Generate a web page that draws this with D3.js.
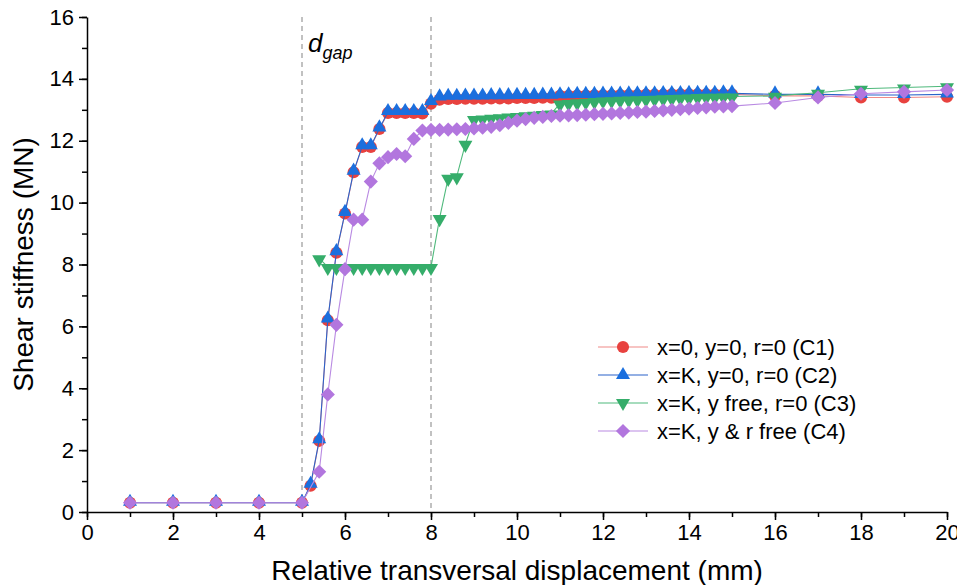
<!DOCTYPE html>
<html>
<head>
<meta charset="utf-8">
<script src="https://cdn.jsdelivr.net/npm/d3@7"></script>
<style>
  body { margin: 0; background: #fff; }
  svg { font-family: Arial, "Liberation Sans", sans-serif; }
</style>
</head>
<body>
<div id="chart-area"></div>
<script>
// x positions (mm)
const xC1 = [1,2,3,4,5,5.2,5.4,5.6,5.8,6,6.2,6.4,6.6,6.8,7,7.2,7.4,7.6,7.8,8,8.2,8.4,8.6,8.8,9,9.2,9.4,9.6,9.8,10,10.2,10.4,10.6,10.8,11,11.2,11.4,11.6,11.8,12,12.2,12.4,12.6,12.8,13,13.2,13.4,13.6,13.8,14,14.2,14.4,14.6,14.8,15,16,17,18,19,20];
const xC2 = xC1;
const xC3 = [5.4,5.6,5.8,6,6.2,6.4,6.6,6.8,7,7.2,7.4,7.6,7.8,8,8.2,8.4,8.6,8.8,9,9.2,9.4,9.6,9.8,10,10.2,10.4,10.6,10.8,11,11.2,11.4,11.6,11.8,12,12.2,12.4,12.6,12.8,13,13.2,13.4,13.6,13.8,14,14.2,14.4,14.6,14.8,15,16,17,18,19,20];
const xC4 = [1,2,3,4,5,5.4,5.6,5.8,6,6.2,6.4,6.6,6.8,7,7.2,7.4,7.6,7.8,8,8.2,8.4,8.6,8.8,9,9.2,9.4,9.6,9.8,10,10.2,10.4,10.6,10.8,11,11.2,11.4,11.6,11.8,12,12.2,12.4,12.6,12.8,13,13.2,13.4,13.6,13.8,14,14.2,14.4,14.6,14.8,15,16,17,18,19,20];

// shear stiffness (MN)
const yC1 = [0.3,0.3,0.3,0.3,0.3,
  0.85,2.3,6.2,8.38,9.65,10.98,11.8,11.8,12.38,12.9,12.9,12.9,12.9,12.88,
  13.2,13.33,
  13.35,13.35,13.36,13.36,13.36,13.37,13.37,13.37,13.38,13.38,13.38,13.39,13.39,
  13.45,13.45,13.46,13.46,13.47,13.47,13.47,13.48,13.48,13.48,13.49,13.49,13.49,13.5,13.5,13.5,13.5,13.5,13.5,13.5,13.5,
  13.45,13.45,13.4,13.4,13.42];
const yC2 = [0.3,0.3,0.3,0.3,0.3,
  0.88,2.32,6.22,8.4,9.67,11.0,11.82,11.82,12.4,12.93,12.93,12.93,12.93,12.93,
  13.25,13.4,
  13.42,13.42,13.43,13.43,13.43,13.44,13.44,13.44,13.45,13.45,13.45,13.46,13.46,
  13.47,13.47,13.48,13.48,13.48,13.49,13.49,13.49,13.5,13.5,13.5,13.5,13.51,13.51,13.51,13.52,13.52,13.52,13.52,13.53,13.53,
  13.5,13.5,13.48,13.48,13.5];
const yC3 = [8.2,
  7.92,7.92,7.92,7.92,7.92,7.92,7.92,7.92,7.92,7.92,7.92,7.92,7.92,
  9.5,10.8,10.85,11.9,12.7,
  12.72,12.74,12.76,12.78,12.8,12.82,12.84,12.86,12.88,
  13.2,13.22,13.24,13.26,13.28,13.3,13.31,13.32,13.33,13.34,13.35,13.36,13.37,13.38,13.39,13.4,13.41,13.42,13.42,13.43,13.43,
  13.45,13.55,13.68,13.72,13.76];
const yC4 = [0.3,0.3,0.3,0.3,0.3,
  1.3,3.8,6.05,7.85,9.45,9.45,10.68,11.27,11.47,11.57,11.5,12.06,12.33,
  12.35,12.35,12.36,12.37,12.38,12.4,12.42,12.45,12.5,12.58,12.65,12.7,12.74,12.77,12.8,
  12.81,12.82,12.83,12.84,12.86,12.87,12.88,12.9,12.91,12.93,12.94,12.96,12.98,13.0,13.02,13.04,13.06,13.08,13.1,13.11,13.12,
  13.22,13.4,13.52,13.58,13.64];

const seriesNames = ["x=0, y=0, r=0 (C1)", "x=K, y=0, r=0 (C2)", "x=K, y free, r=0 (C3)", "x=K, y & r free (C4)"];
const xTicks = [0,2,4,6,8,10,12,14,16,18,20];
const yTicks = [0,2,4,6,8,10,12,14,16];
const gapLines = [5, 8];

const MARGINS = { top: 17, right: 10, left: 87, bottom: 73 };
const WIDTH = 957, HEIGHT = 585;
const CHART_WIDTH = WIDTH - MARGINS.left - MARGINS.right;
const CHART_HEIGHT = HEIGHT - MARGINS.top - MARGINS.bottom;

const svg = d3.select('#chart-area').append('svg')
  .attr('width', WIDTH)
  .attr('height', HEIGHT);
const g = svg.append('g')
  .attr('transform', `translate(${MARGINS.left}, ${MARGINS.top})`);

const xScale = d3.scaleLinear().domain([0, 20]).range([0, CHART_WIDTH]);
const yScale = d3.scaleLinear().domain([0, 16]).range([CHART_HEIGHT, 0]);

// dashed gap lines
g.selectAll('.gap').data(gapLines).enter().append('line')
  .attr('class', 'gap')
  .attr('x1', d => xScale(d)).attr('x2', d => xScale(d))
  .attr('y1', 0).attr('y2', CHART_HEIGHT)
  .attr('stroke', '#a0a0a0')
  .attr('stroke-width', 1.3)
  .attr('stroke-dasharray', '5,4');

// d_gap label
const dgap = g.append('text')
  .attr('x', xScale(5) + 6)
  .attr('y', 35)
  .attr('font-size', '26px')
  .attr('font-style', 'italic');
dgap.append('tspan').text('d');
dgap.append('tspan').attr('dy', 7).attr('font-size', '18px').text('gap');

// markers
const circleSym = d3.symbol().type(d3.symbolCircle).size(115);
const triSym = d3.symbol().type(d3.symbolTriangle).size(85);
const squareSym = d3.symbol().type(d3.symbolSquare).size(100);

const series = [
  { name: seriesNames[0], x: xC1, y: yC1, fill: '#e8423f', line: '#f08a88', path: circleSym(), rot: 0, dy: 0 },
  { name: seriesNames[1], x: xC2, y: yC2, fill: '#1b6fde', line: '#2a63c9', path: triSym(), rot: 0, dy: -1 },
  { name: seriesNames[2], x: xC3, y: yC3, fill: '#35ad6a', line: '#4fb97c', path: triSym(), rot: 180, dy: 1 },
  { name: seriesNames[3], x: xC4, y: yC4, fill: '#b276de', line: '#b98ae2', path: squareSym(), rot: 45, dy: 0 }
];

const line = d3.line().x(d => xScale(d[0])).y(d => yScale(d[1]));

series.forEach(s => {
  const pts = s.x.slice(0, s.y.length).map((x, i) => [x, s.y[i]]);
  g.append('path')
    .datum(pts)
    .attr('fill', 'none')
    .attr('stroke', s.line)
    .attr('stroke-width', 1.1)
    .attr('d', line);
  g.append('g').selectAll('path').data(pts).enter().append('path')
    .attr('d', s.path)
    .attr('fill', s.fill)
    .attr('transform', d => `translate(${xScale(d[0])}, ${yScale(d[1]) + s.dy}) rotate(${s.rot})`);
});

// axes
const xAxis = g.append('g')
  .attr('transform', `translate(0, ${CHART_HEIGHT})`)
  .call(d3.axisBottom(xScale).tickValues(xTicks).tickSize(8).tickSizeOuter(0).tickPadding(4));
g.append('g')
  .attr('transform', `translate(0, ${CHART_HEIGHT})`)
  .call(d3.axisBottom(xScale).ticks(20).tickSize(5).tickFormat('').tickSizeOuter(0))
  .select('.domain').remove();
const yAxis = g.append('g')
  .call(d3.axisLeft(yScale).tickValues(yTicks).tickSize(8).tickSizeOuter(0).tickPadding(5));
g.append('g')
  .call(d3.axisLeft(yScale).ticks(16).tickSize(5).tickFormat('').tickSizeOuter(0))
  .select('.domain').remove();

svg.selectAll('.domain, .tick line').attr('stroke', '#000').attr('stroke-width', 1.5);
xAxis.selectAll('text').attr('font-size', '22px').attr('fill', '#000').attr('font-family', 'Arial, "Liberation Sans", sans-serif');
yAxis.selectAll('text').attr('font-size', '22px').attr('fill', '#000').attr('font-family', 'Arial, "Liberation Sans", sans-serif');

// axis titles
g.append('text')
  .attr('x', CHART_WIDTH / 2)
  .attr('y', CHART_HEIGHT + 68)
  .attr('font-size', '28px')
  .attr('text-anchor', 'middle')
  .text('Relative transversal displacement (mm)');
g.append('text')
  .attr('transform', 'rotate(-90)')
  .attr('x', -CHART_HEIGHT / 2)
  .attr('y', -54)
  .attr('font-size', '28px')
  .attr('text-anchor', 'middle')
  .text('Shear stiffness (MN)');

// legend
const legend = g.append('g')
  .attr('transform', `translate(${598 - MARGINS.left}, ${347 - MARGINS.top})`);
series.forEach((s, i) => {
  const row = legend.append('g').attr('transform', `translate(0, ${i * 28})`);
  row.append('line')
    .attr('x1', 0).attr('x2', 50)
    .attr('stroke', s.line).attr('stroke-width', 1.1);
  row.append('path')
    .attr('d', s.path)
    .attr('fill', s.fill)
    .attr('transform', `translate(25, 0) rotate(${s.rot})`);
  row.append('text')
    .attr('x', 59)
    .attr('y', 8)
    .attr('font-size', '22px')
    .text(s.name);
});
</script>
</body>
</html>
